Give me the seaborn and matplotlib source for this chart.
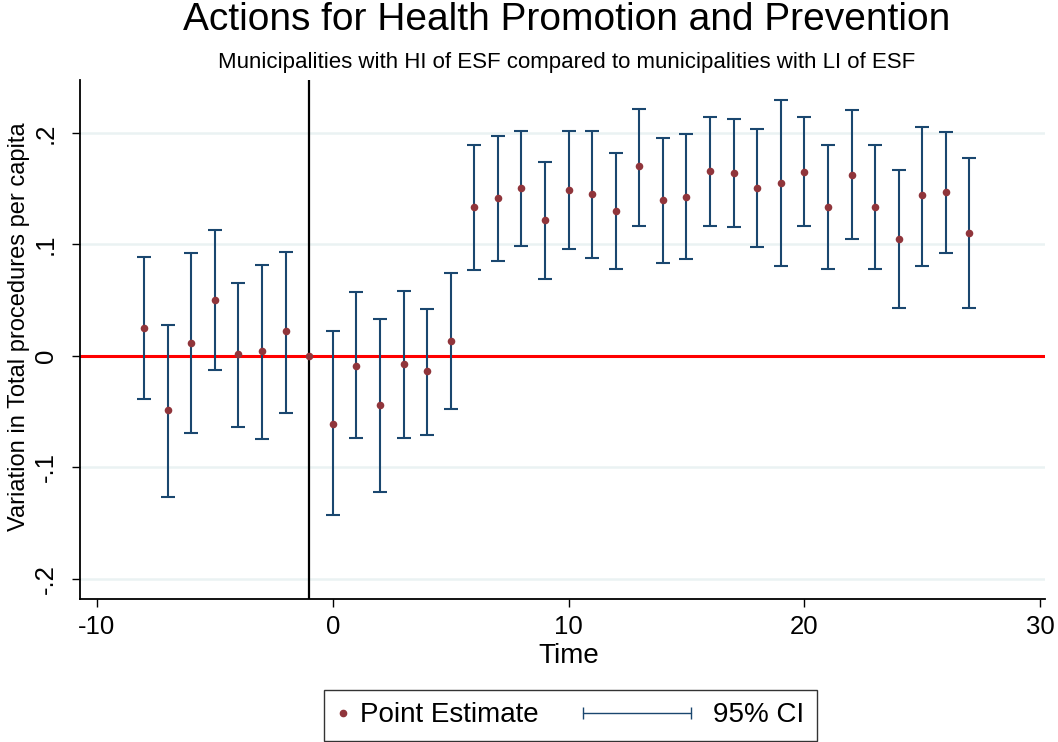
import matplotlib
matplotlib.use("Agg")
import matplotlib.pyplot as plt
from matplotlib.lines import Line2D
from matplotlib.legend_handler import HandlerBase
import numpy as np
import pandas as pd
import seaborn as sns

# Datos (tiempo relativo, estimacion puntual, IC 95%)
tiempo = [-8, -7, -6, -5, -4, -3, -2, -1, 0, 1, 2, 3, 4, 5, 6, 7, 8, 9, 10,
          11, 12, 13, 14, 15, 16, 17, 18, 19, 20, 21, 22, 23, 24, 25, 26, 27]
estimacion = [0.025, -0.049, 0.012, 0.050, 0.002, 0.004, 0.022, 0.0,
              -0.061, -0.009, -0.044, -0.007, -0.014, 0.013,
              0.134, 0.142, 0.151, 0.122, 0.149, 0.145, 0.130, 0.170,
              0.140, 0.143, 0.166, 0.164, 0.151, 0.155, 0.165, 0.134,
              0.162, 0.134, 0.105, 0.144, 0.147, 0.110]
ic_sup = [0.089, 0.028, 0.092, 0.113, 0.065, 0.082, 0.093, 0.0,
          0.022, 0.057, 0.033, 0.058, 0.042, 0.074,
          0.189, 0.197, 0.202, 0.174, 0.202, 0.202, 0.182, 0.222,
          0.196, 0.199, 0.214, 0.213, 0.204, 0.230, 0.214, 0.189,
          0.221, 0.189, 0.167, 0.205, 0.201, 0.178]
ic_inf = [-0.039, -0.127, -0.069, -0.013, -0.064, -0.075, -0.051, 0.0,
          -0.143, -0.074, -0.122, -0.074, -0.071, -0.048,
          0.077, 0.085, 0.099, 0.069, 0.096, 0.088, 0.078, 0.117,
          0.083, 0.087, 0.117, 0.116, 0.098, 0.081, 0.117, 0.078,
          0.105, 0.078, 0.043, 0.081, 0.092, 0.043]

y_ticks = [-0.2, -0.1, 0, 0.1, 0.2]
y_tick_labels = ["-.2", "-.1", "0", ".1", ".2"]
x_ticks = [-10, 0, 10, 20, 30]

df = pd.DataFrame({"Time": tiempo, "coef": estimacion, "hi": ic_sup, "lo": ic_inf})

color_punto = "#90353B"
color_ic = "#1A476F"

sns.set_style("white")
plt.rcParams['font.family'] = ['Liberation Sans', 'DejaVu Sans']
plt.rcParams['text.color'] = 'black'
plt.rcParams['axes.labelcolor'] = 'black'
plt.rcParams['xtick.color'] = 'black'
plt.rcParams['ytick.color'] = 'black'
plt.rcParams['axes.unicode_minus'] = False

fig = plt.figure(figsize=(10.58, 7.42), dpi=100)
ax = fig.add_axes([0.0756, 0.193, 0.912, 0.699])

# lineas de referencia
ax.axhline(0, color="red", lw=2.2, zorder=1)
ax.axvline(-1, color="black", lw=1.6, zorder=1)

# intervalos de confianza (sin el periodo de referencia)
ci = df[df["Time"] != -1]
ax.errorbar(ci["Time"], ci["coef"],
            yerr=[ci["coef"] - ci["lo"], ci["hi"] - ci["coef"]],
            fmt="none", ecolor=color_ic, elinewidth=1.5, capsize=4.7,
            capthick=1.5, zorder=2)

sns.scatterplot(data=df, x="Time", y="coef", color=color_punto, s=30,
                edgecolor=color_punto, linewidth=0, zorder=3, ax=ax)

ax.set_xlim(-10.72, 30.2)
ax.set_ylim(-0.218, 0.2475)
ax.set_xticks(x_ticks)
ax.set_yticks(y_ticks)
ax.set_yticklabels(y_tick_labels, rotation=90, va="center")
ax.tick_params(axis="both", which="major", labelsize=18.5, length=6, width=1,
               direction="out", color="black", left=True, bottom=True)
ax.tick_params(axis="x", pad=6)
ax.tick_params(axis="y", pad=10)
ax.grid(axis="y", color="#EAF2F3", lw=1.8)
ax.set_axisbelow(True)

for lado in ["top", "right"]:
    ax.spines[lado].set_visible(False)
for lado in ["left", "bottom"]:
    ax.spines[lado].set_color("black")
    ax.spines[lado].set_linewidth(1.3)

ax.set_xlabel("Time", fontsize=20)
ax.xaxis.set_label_coords(0.507, -0.085)
ax.set_ylabel("Variation in Total procedures per capita", fontsize=17)
ax.yaxis.set_label_coords(-0.063, 0.524)
ax.yaxis.label.set_va("center")

fig.text(0.536, 0.997, "Actions for Health Promotion and Prevention",
         ha="center", va="top", fontsize=28)
fig.text(0.536, 0.9164, "Municipalities with HI of ESF compared to municipalities with LI of ESF",
         ha="center", va="center", fontsize=16)


# leyenda: el IC se dibuja como una linea con topes que sale hacia la izquierda del hueco
class HandlerIC(HandlerBase):
    def create_artists(self, legend, orig_handle, xdescent, ydescent,
                       width, height, fontsize, trans):
        y = height / 2 - ydescent
        x0, x1 = -xdescent - 76, -xdescent + 1.5
        linea = Line2D([x0, x1], [y, y], color=color_ic, lw=1, marker="|",
                       markersize=9, markeredgewidth=1, transform=trans)
        return [linea]


h_punto = Line2D([], [], ls="none", marker="o", color=color_punto, markersize=4.5)
h_ic = Line2D([], [], color=color_ic)
leg = fig.legend([h_punto, h_ic], ["Point Estimate", "95% CI"],
                 loc="upper left", bbox_to_anchor=(324 / 1058, 1 - 690 / 742), ncol=2,
                 fontsize=20, frameon=True, fancybox=False, edgecolor="black",
                 handlelength=0.5, columnspacing=5.4, handletextpad=0.36,
                 borderpad=0.45, borderaxespad=0, numpoints=1,
                 handler_map={h_ic: HandlerIC()})
leg.get_frame().set_linewidth(1)

fig.savefig("out.png", dpi=100)
